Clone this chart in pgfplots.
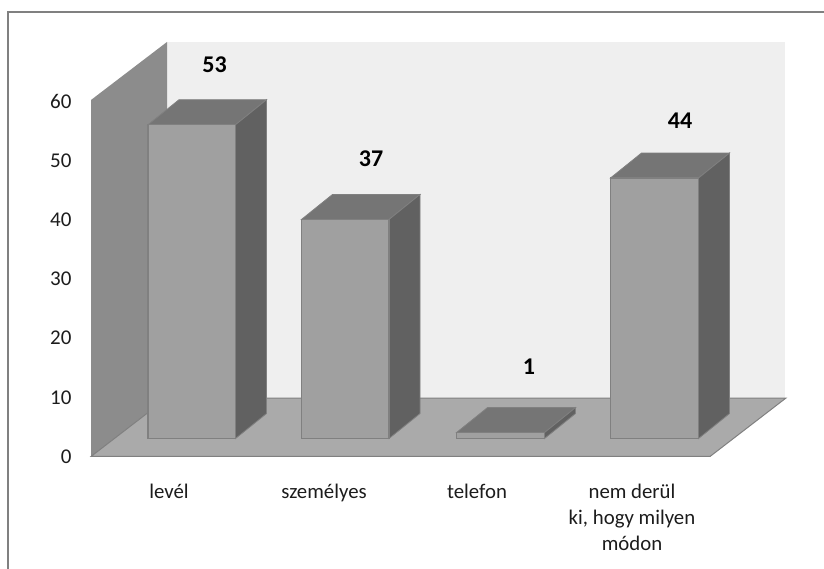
\documentclass[border=0pt]{standalone}
\usepackage{fontspec}
\setmainfont{Carlito}
\usepackage{pgfplots}
\pgfplotsset{compat=1.18}
\definecolor{wallside}{HTML}{8C8C8C}
\definecolor{wallback}{HTML}{EFEFEF}
\definecolor{floorc}{HTML}{AAAAAA}
\definecolor{front}{HTML}{A0A0A0}
\definecolor{edgec}{HTML}{808080}
\definecolor{topc}{HTML}{757575}
\definecolor{sidec}{HTML}{616161}
\definecolor{txt}{HTML}{1C1C1C}
\begin{document}
\begin{tikzpicture}[x=1pt,y=1pt]
\path[use as bounding box] (0,0) rectangle (824,569);
\draw[edgec,line width=2pt] (8,0) -- (8,557) -- (824,557);
\begin{axis}[
  at={(91pt,112.5pt)}, anchor=south west,
  scale only axis, width=733pt, height=456.5pt,
  xmin=91, xmax=824, ymin=0, ymax=77.11,
  clip=false,
  axis line style={draw=none},
  major tick length=0pt,
  tick style={draw=none},
  ytick={0,10,20,30,40,50,60},
  xtick={169,324,477,632},
  xticklabels={lev\'el,szem\'elyes,telefon,{nem der\"ul\\ki, hogy milyen\\m\'odon}},
  /pgf/number format/assume math mode=true,
  yticklabel style={font=\fontsize{21}{24}\selectfont,text=txt,anchor=east,xshift=-16pt,yshift=0pt},
  xticklabel style={font=\fontsize{20.8}{26}\selectfont,text=txt,align=center,anchor=north,yshift=-24pt},
]
% walls and floor
\addplot[fill=wallback,draw=none] coordinates {(167,9.88)(785,9.88)(785,70.02)(167,70.02)} -- cycle;
\addplot[fill=wallside,draw=none] coordinates {(91,0)(91,60.22)(167,70.02)(167,9.88)} -- cycle;
\addplot[fill=floorc,draw=edgec,line width=1pt] coordinates {(91,0)(710,0)(786,9.88)(167,9.88)} -- cycle;
% bar 1: 53
\addplot[fill=topc,draw=edgec,line width=0.8pt] coordinates {(148,56.04)(235.5,56.04)(266.5,60.26)(179,60.26)} -- cycle;
\addplot[fill=sidec,draw=edgec,line width=0.8pt] coordinates {(235.5,3.04)(266.5,7.26)(266.5,60.26)(235.5,56.04)} -- cycle;
\addplot[fill=front,draw=edgec,line width=1.2pt] coordinates {(148,3.04)(235.5,3.04)(235.5,56.04)(148,56.04)} -- cycle;
% bar 2: 37
\addplot[fill=topc,draw=edgec,line width=0.8pt] coordinates {(301.5,40.04)(389,40.04)(420,44.26)(332.5,44.26)} -- cycle;
\addplot[fill=sidec,draw=edgec,line width=0.8pt] coordinates {(389,3.04)(420,7.26)(420,44.26)(389,40.04)} -- cycle;
\addplot[fill=front,draw=edgec,line width=1.2pt] coordinates {(301.5,3.04)(389,3.04)(389,40.04)(301.5,40.04)} -- cycle;
% bar 3: 1
\addplot[fill=topc,draw=edgec,line width=0.8pt] coordinates {(456.5,4.04)(544.5,4.04)(575.5,8.26)(487.5,8.26)} -- cycle;
\addplot[fill=sidec,draw=edgec,line width=0.8pt] coordinates {(544.5,3.04)(575.5,7.26)(575.5,8.26)(544.5,4.04)} -- cycle;
\addplot[fill=front,draw=edgec,line width=1.2pt] coordinates {(456.5,3.04)(544.5,3.04)(544.5,4.04)(456.5,4.04)} -- cycle;
% bar 4: 44
\addplot[fill=topc,draw=edgec,line width=0.8pt] coordinates {(610.5,47.04)(698.5,47.04)(729.5,51.26)(641.5,51.26)} -- cycle;
\addplot[fill=sidec,draw=edgec,line width=0.8pt] coordinates {(698.5,3.04)(729.5,7.26)(729.5,51.26)(698.5,47.04)} -- cycle;
\addplot[fill=front,draw=edgec,line width=1.2pt] coordinates {(610.5,3.04)(698.5,3.04)(698.5,47.04)(610.5,47.04)} -- cycle;
% value labels
\addplot[draw=none,mark=none,nodes near coords,point meta=explicit symbolic,
  nodes near coords style={anchor=center,font=\fontsize{24}{26}\selectfont\bfseries,text=black}]
  coordinates {(214.5,66.1)[53] (371,50.25)[37] (529,15.1)[1] (680,56.7)[44]};
\end{axis}
\end{tikzpicture}
\end{document}
